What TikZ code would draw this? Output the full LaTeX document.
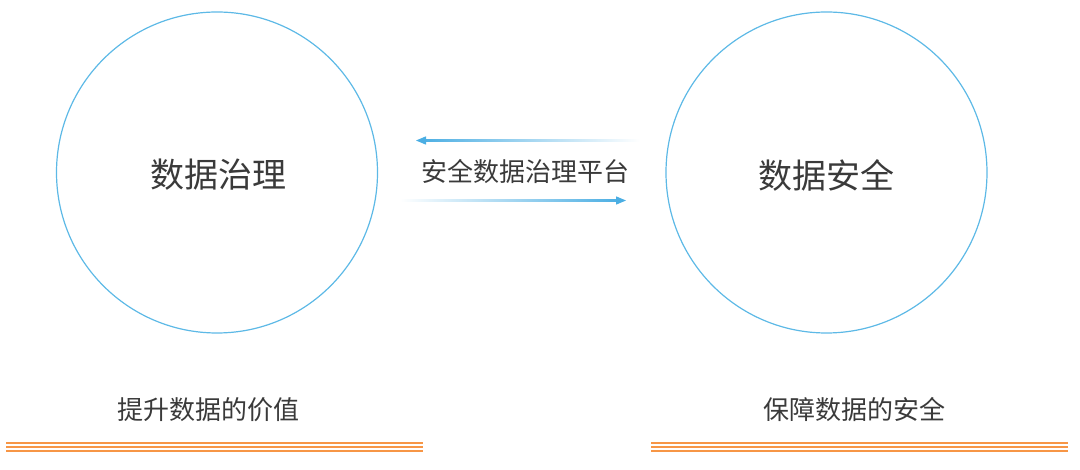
\documentclass[tikz,border=0pt]{standalone}
\usepackage{fontspec}
\setmainfont{Noto Sans CJK SC}
\definecolor{circblue}{HTML}{5DB9E6}
\definecolor{arrblue}{HTML}{4BAEE3}
\definecolor{lineorange}{HTML}{F79646}
\definecolor{txtgray}{HTML}{3A3A3A}
\begin{document}
\begin{tikzpicture}[x=1pt,y=-1pt,
  ring/.style={circle,draw=circblue,line width=1.2pt,minimum size=321pt,inner sep=0pt},
  bigtxt/.style={text=txtgray,font=\fontsize{34}{37}\selectfont},
  midtxt/.style={text=txtgray,font=\fontsize{26}{29}\selectfont},
  orangebar/.style={fill=lineorange}]
\useasboundingbox (0,0) rectangle (1080,470);
% circles
\node[ring] (L) at (217,172.5) {};
\node[ring] (R) at (826.5,172.5) {};
\node[bigtxt] (Lt) at (218,175) {数据治理};
\node[bigtxt] (Rt) at (826.5,175) {数据安全};
% middle label
\node[midtxt] (M) at (525,172) {安全数据治理平台};
% bottom labels
\node[midtxt] (B1) at (208,410) {提升数据的价值};
\node[midtxt] (B2) at (854,410) {保障数据的安全};
% triple orange lines
\fill[orangebar] (6,442) rectangle (423,444);
\fill[orangebar] (6,446) rectangle (423,448);
\fill[orangebar] (6,450) rectangle (423,452);
\fill[orangebar] (651,442) rectangle (1068,444);
\fill[orangebar] (651,446) rectangle (1068,448);
\fill[orangebar] (651,450) rectangle (1068,452);
% arrows (fading tails)
\coordinate (a1e) at (416,140.5);
\coordinate (a2e) at (626,200.5);
\shade[left color=arrblue,right color=white] (420,139.8) rectangle (640,141.2);
\shade[left color=white,right color=arrblue] (400,199.8) rectangle (620,201.2);
\fill[arrblue] (a1e) -- ++(10,-4.2) -- ++(0,8.4) -- cycle;
\fill[arrblue] (a2e) -- ++(-10,-4.2) -- ++(0,8.4) -- cycle;
\end{tikzpicture}
\end{document}
